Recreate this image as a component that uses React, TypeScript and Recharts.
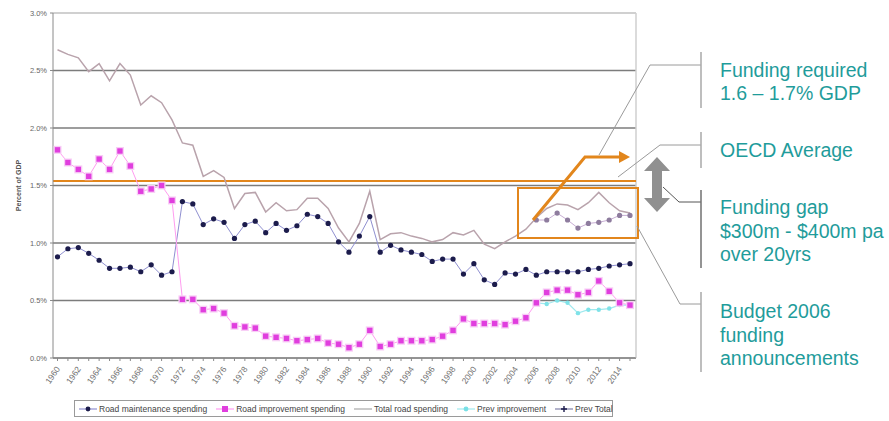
import { LineChart, Line, XAxis, YAxis, CartesianGrid, ReferenceLine } from "recharts"

const years = [
  "1960", "1961", "1962", "1963", "1964", "1965", "1966", "1967", "1968", "1969",
  "1970", "1971", "1972", "1973", "1974", "1975", "1976", "1977", "1978", "1979",
  "1980", "1981", "1982", "1983", "1984", "1985", "1986", "1987", "1988", "1989",
  "1990", "1991", "1992", "1993", "1994", "1995", "1996", "1997", "1998", "1999",
  "2000", "2001", "2002", "2003", "2004", "2005", "2006", "2007", "2008", "2009",
  "2010", "2011", "2012", "2013", "2014", "2015",
]

const maintenance = [
  0.88, 0.95, 0.96, 0.91, 0.85, 0.78, 0.78, 0.79, 0.75, 0.81, 0.72, 0.75, 1.36, 1.34,
  1.16, 1.21, 1.18, 1.04, 1.16, 1.19, 1.09, 1.17, 1.11, 1.15, 1.25, 1.23, 1.17, 1.01,
  0.92, 1.06, 1.23, 0.92, 0.98, 0.94, 0.92, 0.9, 0.84, 0.86, 0.86, 0.73, 0.82, 0.68,
  0.64, 0.74, 0.73, 0.77, 0.72, 0.75, 0.75, 0.75, 0.75, 0.77, 0.78, 0.8, 0.81, 0.82,
]

const improvement = [
  1.81, 1.7, 1.64, 1.58, 1.73, 1.64, 1.8, 1.67, 1.45, 1.47, 1.5, 1.37, 0.51, 0.51,
  0.42, 0.43, 0.39, 0.28, 0.27, 0.26, 0.19, 0.18, 0.17, 0.15, 0.16, 0.17, 0.13, 0.12,
  0.09, 0.12, 0.24, 0.1, 0.12, 0.15, 0.15, 0.15, 0.16, 0.19, 0.24, 0.34, 0.3, 0.3,
  0.3, 0.29, 0.32, 0.35, 0.48, 0.57, 0.59, 0.59, 0.55, 0.57, 0.67, 0.58, 0.48, 0.46,
]

const total = [
  2.68, 2.64, 2.61, 2.49, 2.56, 2.41, 2.56, 2.46, 2.2, 2.28, 2.22, 2.07, 1.87, 1.85,
  1.58, 1.63, 1.57, 1.3, 1.43, 1.44, 1.27, 1.35, 1.28, 1.29, 1.39, 1.39, 1.3, 1.13,
  1.01, 1.17, 1.45, 1.03, 1.08, 1.09, 1.06, 1.04, 1.01, 1.03, 1.09, 1.07, 1.11, 0.99,
  0.95, 1.01, 1.06, 1.12, 1.22, 1.3, 1.34, 1.33, 1.29, 1.35, 1.44, 1.35, 1.28, 1.26,
]

// previous estimates only exist from 2006
const PREV_FROM = years.indexOf("2006")
const prevImprovement = [0.48, 0.47, 0.5, 0.48, 0.39, 0.42, 0.42, 0.43, 0.46, 0.46]
const prevTotal = [1.2, 1.2, 1.26, 1.2, 1.13, 1.17, 1.18, 1.2, 1.24, 1.24]

const yTicks = [0, 0.5, 1, 1.5, 2, 2.5, 3]
const OECD_AVERAGE = 1.54

const data = years.map((year, i) => ({
  year,
  maintenance: maintenance[i],
  improvement: improvement[i],
  total: total[i],
  prevImprovement: i >= PREV_FROM ? prevImprovement[i - PREV_FROM] : null,
  prevTotal: i >= PREV_FROM ? prevTotal[i - PREV_FROM] : null,
}))

const FONT = "'Liberation Sans', Arial, sans-serif"
const TEAL = "#1f9c9b"
const ORANGE = "#e2861c"

function YearTick({ x, y, payload }: any) {
  if (Number(payload.value) % 2 !== 0) return <g />
  const ax = x + 3
  const ay = y + 6
  return (
    <text
      x={ax}
      y={ay}
      transform={`rotate(-55 ${ax} ${ay})`}
      textAnchor="end"
      fontSize={8.5}
      fill="#707070"
      fontFamily={FONT}
    >
      {payload.value}
    </text>
  )
}

const navyDot = ({ cx, cy, index }: any) =>
  cy == null ? <g key={`m${index}`} /> : <circle key={`m${index}`} cx={cx} cy={cy} r={2.6} fill="#1c1c4c" />

const magentaDot = ({ cx, cy, index }: any) =>
  cy == null ? (
    <g key={`i${index}`} />
  ) : (
    <g key={`i${index}`}>
      <rect x={cx - 4} y={cy - 4} width={8} height={8} fill="#f8cdf6" />
      <rect x={cx - 2.7} y={cy - 2.7} width={5.4} height={5.4} fill="#e03ede" />
    </g>
  )

const cyanDot = ({ cx, cy, index }: any) =>
  cy == null ? <g key={`c${index}`} /> : <circle key={`c${index}`} cx={cx} cy={cy} r={2.2} fill="#7fe2e8" />

const prevTotalDot = ({ cx, cy, index }: any) =>
  cy == null ? <g key={`p${index}`} /> : <circle key={`p${index}`} cx={cx} cy={cy} r={2.6} fill="#8e7c9e" />

const legendItems = [
  { label: "Road maintenance spending", line: "#8f8fd0", dot: "#1c1c4c", shape: "circle" },
  { label: "Road improvement spending", line: "#ff9cf0", dot: "#e03ede", shape: "square" },
  { label: "Total road spending", line: "#a9a9a9", dot: "", shape: "none" },
  { label: "Prev improvement", line: "#9fe9ee", dot: "#78e0e6", shape: "circle" },
  { label: "Prev Total", line: "#8080a8", dot: "#1c1c4c", shape: "plus" },
]

function Legend() {
  return (
    <div
      style={{
        position: "absolute",
        left: 74,
        top: 400,
        width: 539,
        height: 17,
        border: "1px solid #9a9a9a",
        display: "flex",
        alignItems: "center",
        gap: 9,
        paddingLeft: 4,
        boxSizing: "border-box",
        fontFamily: FONT,
        fontSize: 8.5,
        color: "#444",
        whiteSpace: "nowrap",
      }}
    >
      {legendItems.map((it) => (
        <div key={it.label} style={{ display: "flex", alignItems: "center", gap: 2 }}>
          <svg width={18} height={8}>
            <line x1={0} y1={4} x2={18} y2={4} stroke={it.line} strokeWidth={1.2} />
            {it.shape === "circle" && <circle cx={9} cy={4} r={2.4} fill={it.dot} />}
            {it.shape === "square" && <rect x={6} y={1} width={6} height={6} fill={it.dot} />}
            {it.shape === "plus" && (
              <path d="M6 4 H12 M9 1 V7" stroke={it.dot} strokeWidth={1.4} />
            )}
          </svg>
          <span>{it.label}</span>
        </div>
      ))}
    </div>
  )
}

function Annotations() {
  const t = { fontFamily: FONT, fontSize: 19.5, fill: TEAL }
  return (
    <svg
      width={889}
      height={421}
      style={{ position: "absolute", left: 0, top: 0, pointerEvents: "none" }}
    >
      {/* orange highlight box and arrow */}
      <rect x={518} y={188} width={120} height={50} fill="none" stroke={ORANGE} strokeWidth={2} />
      <polyline points="533,220 585,157 621,157" fill="none" stroke={ORANGE} strokeWidth={3} />
      <polygon points="619,151 630,157 619,163" fill={ORANGE} />

      {/* grey double arrow */}
      <polygon
        points="657,157 670,171 662,171 662,198 670,198 657,212 644,198 652,198 652,171 644,171"
        fill="#909090"
      />

      {/* connectors */}
      <polyline points="701,65 650,65 599,155" fill="none" stroke="#9a9a9a" strokeWidth={1} />
      <polyline points="701,145 660,145 618,177" fill="none" stroke="#9a9a9a" strokeWidth={1} />
      <polyline points="701,202 679,202 663,187" fill="none" stroke="#555" strokeWidth={1} />
      <polyline points="701,304 680,304 637,226" fill="none" stroke="#9a9a9a" strokeWidth={1} />

      {/* brackets */}
      <line x1={701} y1={52} x2={701} y2={108} stroke="#a8a8a8" strokeWidth={1.5} />
      <line x1={701} y1={132} x2={701} y2={168} stroke="#a8a8a8" strokeWidth={1.5} />
      <line x1={701} y1={190} x2={701} y2={268} stroke="#707070" strokeWidth={1.5} />
      <line x1={701} y1={292} x2={701} y2={372} stroke="#a8a8a8" strokeWidth={1.5} />

      <text x={720} y={77} {...t}>Funding required</text>
      <text x={720} y={100} {...t}>1.6 – 1.7% GDP</text>
      <text x={720} y={157} {...t}>OECD Average</text>
      <text x={720} y={214} {...t}>Funding gap</text>
      <text x={720} y={237.5} {...t}>$300m - $400m pa</text>
      <text x={720} y={261} {...t}>over 20yrs</text>
      <text x={720} y={318} {...t}>Budget 2006</text>
      <text x={720} y={341.5} {...t}>funding</text>
      <text x={720} y={365} {...t}>announcements</text>
    </svg>
  )
}

export default function App() {
  return (
    <div
      style={{
        position: "absolute",
        left: 0,
        top: 0,
        width: 889,
        height: 421,
        background: "#fff",
        fontFamily: FONT,
      }}
    >
      <LineChart width={640} height={421} data={data} margin={{ top: 13, right: 4, left: 8, bottom: 0 }}>
        <CartesianGrid vertical={false} stroke="#7c7c7c" strokeWidth={1.5} />
        {/* light plot-area border on the right */}
        <CartesianGrid
          horizontal={false}
          stroke="#cfcfcf"
          strokeWidth={1.5}
          verticalCoordinatesGenerator={({ offset }: any) => [offset.left + offset.width]}
        />
        <ReferenceLine y={3} stroke="#d0d0d0" strokeWidth={2} />
        <XAxis
          dataKey="year"
          interval={0}
          height={63}
          tickSize={3}
          padding={{ left: 4.5, right: 6 }}
          axisLine={{ stroke: "#8a8a8a" }}
          tickLine={{ stroke: "#8a8a8a" }}
          tick={<YearTick />}
        />
        <YAxis
          width={45}
          domain={[0, 3]}
          ticks={yTicks}
          tickSize={3}
          tickMargin={3}
          tickFormatter={(v: number) => `${v.toFixed(1)}%`}
          axisLine={{ stroke: "#8a8a8a" }}
          tickLine={{ stroke: "#8a8a8a" }}
          tick={{ fontSize: 7.5, fill: "#666", fontFamily: FONT }}
          label={{
            value: "Percent of GDP",
            angle: -90,
            position: "insideLeft",
            offset: 11,
            style: { fontSize: 7, fill: "#555", fontWeight: 700, fontFamily: FONT, textAnchor: "middle" },
          }}
        />
        <ReferenceLine y={OECD_AVERAGE} stroke={ORANGE} strokeWidth={2} />
        <Line
          type="linear"
          dataKey="total"
          stroke="#b9a3ac"
          strokeWidth={1.5}
          dot={false}
          isAnimationActive={false}
        />
        <Line
          type="linear"
          dataKey="prevTotal"
          stroke="#c8aed4"
          strokeWidth={1}
          dot={prevTotalDot}
          connectNulls={false}
          isAnimationActive={false}
        />
        <Line
          type="linear"
          dataKey="maintenance"
          stroke="#8f8fd0"
          strokeWidth={1}
          dot={navyDot}
          isAnimationActive={false}
        />
        <Line
          type="linear"
          dataKey="prevImprovement"
          stroke="#9fe9ee"
          strokeWidth={1.2}
          dot={cyanDot}
          isAnimationActive={false}
        />
        <Line
          type="linear"
          dataKey="improvement"
          stroke="#ff9cf0"
          strokeWidth={1}
          dot={magentaDot}
          isAnimationActive={false}
        />
      </LineChart>
      <Legend />
      <Annotations />
    </div>
  )
}
